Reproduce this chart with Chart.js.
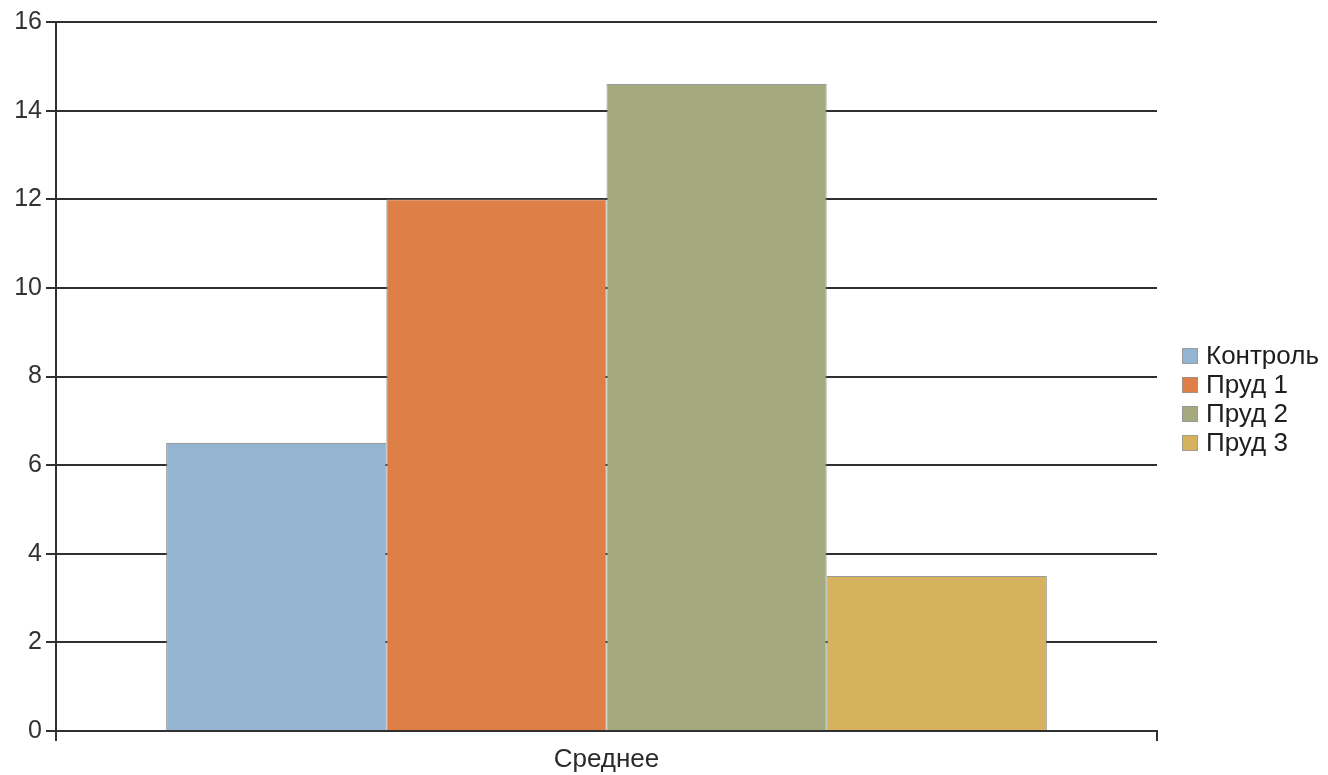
<!DOCTYPE html>
<html>
<head>
<meta charset="utf-8">
<script src="https://cdn.jsdelivr.net/npm/chart.js@4/dist/chart.umd.min.js"></script>
<style>
  html, body { margin: 0; padding: 0; background: #fff; }
  #wrap { width: 1328px; height: 775px; position: relative; }
</style>
</head>
<body>
<div id="wrap"><canvas id="c" width="1328" height="775"></canvas></div>
<script>
// Categories and series
const categories = ['Среднее'];
const seriesNames = ['Контроль', 'Пруд 1', 'Пруд 2', 'Пруд 3'];
const kontrol = [6.5];
const prud1 = [12];
const prud2 = [14.6];
const prud3 = [3.5];
const yTicks = [0, 2, 4, 6, 8, 10, 12, 14, 16];

const colors = ['#94b4d2', '#dd7f46', '#a4aa7e', '#d7b25e'];
const seriesValues = [kontrol, prud1, prud2, prud3];
const FONT = '"Liberation Sans", Arial, sans-serif';
const LINE = '#303030';

// Legend drawn to the right of the plot, stacked vertically
const sideLegend = {
  id: 'sideLegend',
  afterDraw(chart) {
    const ctx = chart.ctx;
    const area = chart.chartArea;
    const ds = chart.data.datasets;
    const rowH = 29;
    const box = 16;
    const x0 = area.right + 25;
    const midY = (area.top + area.bottom) / 2 + 23;
    const y0 = midY - ((ds.length - 1) * rowH) / 2;
    ctx.save();
    ctx.font = '26px ' + FONT;
    ctx.textBaseline = 'middle';
    ds.forEach((d, i) => {
      const cy = y0 + i * rowH;
      ctx.fillStyle = d.backgroundColor;
      ctx.fillRect(x0, cy - box / 2, box, box);
      ctx.strokeStyle = 'rgba(150,150,150,0.8)';
      ctx.lineWidth = 1;
      ctx.strokeRect(x0 + 0.5, cy - box / 2 + 0.5, box - 1, box - 1);
      ctx.fillStyle = '#1e1e1e';
      ctx.fillText(d.label, x0 + box + 8, cy + 1);
    });
    ctx.restore();
  }
};

new Chart(document.getElementById('c'), {
  type: 'bar',
  data: {
    labels: categories,
    datasets: seriesNames.map((name, i) => ({
      label: name,
      data: seriesValues[i],
      backgroundColor: colors[i],
      borderColor: 'rgba(120,120,120,0.75)',
      borderWidth: 1,
      categoryPercentage: 0.8,
      barPercentage: 1.0
    }))
  },
  options: {
    responsive: false,
    animation: false,
    devicePixelRatio: 1,
    layout: { padding: { left: 0, right: 171, top: 22, bottom: 0 } },
    plugins: {
      legend: { display: false },
      tooltip: { enabled: false }
    },
    scales: {
      x: {
        afterFit(s) { s.height = 44; },
        grid: {
          offset: true,
          drawOnChartArea: false,
          drawTicks: true,
          tickLength: 10,
          color: LINE,
          lineWidth: 2
        },
        border: { display: true, color: LINE, width: 2 },
        ticks: { color: '#2a2a2a', font: { family: FONT, size: 26 }, padding: 3 }
      },
      y: {
        min: 0,
        max: 16,
        afterFit(s) { s.width = 56; },
        afterBuildTicks(s) { s.ticks = yTicks.map(v => ({ value: v })); },
        grid: {
          drawOnChartArea: true,
          drawTicks: true,
          tickLength: 10,
          color: LINE,
          lineWidth: 2
        },
        border: { display: true, color: LINE, width: 2 },
        ticks: { color: '#333', font: { family: FONT, size: 25 }, padding: 4 }
      }
    }
  },
  plugins: [sideLegend]
});
</script>
</body>
</html>
